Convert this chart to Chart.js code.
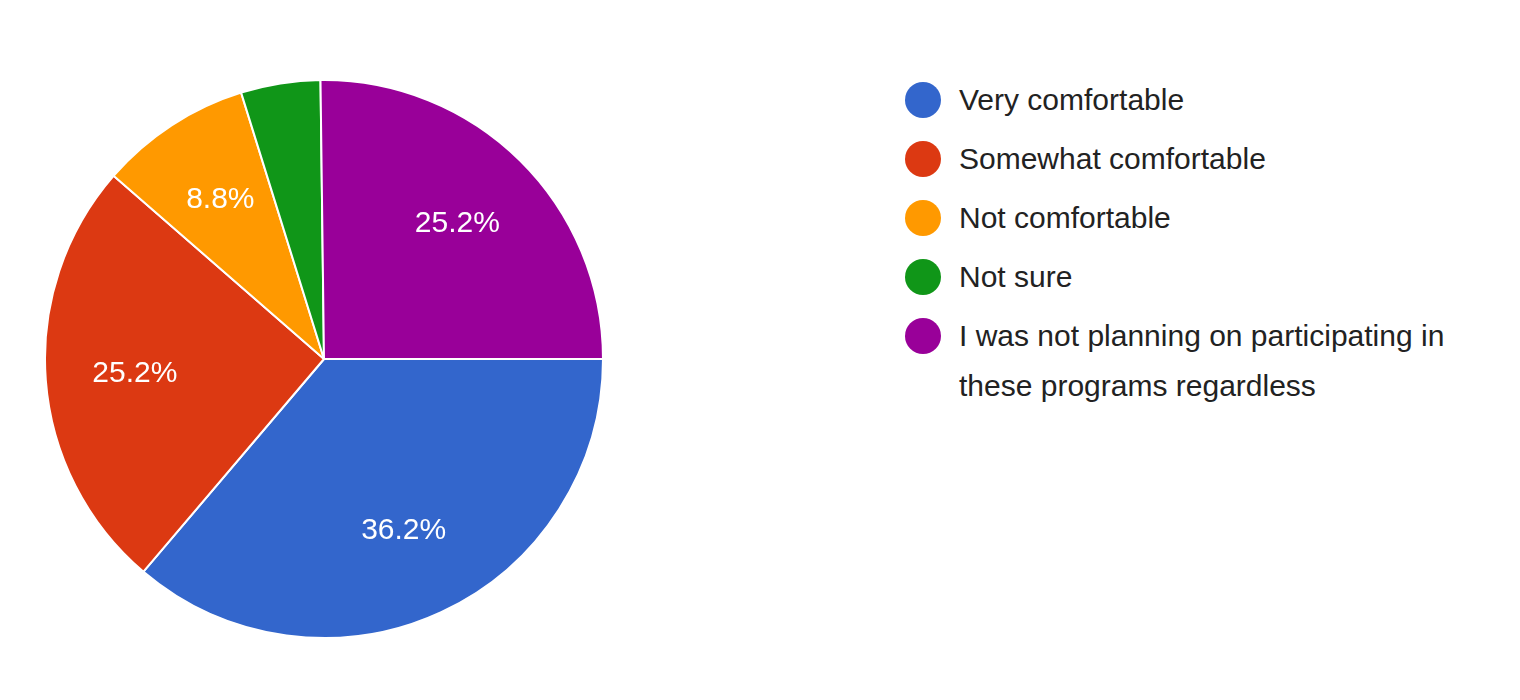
<!DOCTYPE html>
<html><head><meta charset="utf-8">
<script src="https://cdn.jsdelivr.net/npm/chart.js@4"></script>
<style>
body{margin:0;background:#fff;font-family:"Liberation Sans",Arial,sans-serif;}
#wrap{position:absolute;left:42px;top:77px;width:564px;height:564px;}
#legend{position:absolute;left:905px;top:75px;width:580px;color:#222;font-size:30px;}
.item{position:relative;padding-left:54px;line-height:50px;margin-bottom:9px;}
.dot{position:absolute;left:0;top:7px;width:36px;height:36px;border-radius:50%;}
</style></head><body>
<div id="wrap"><canvas id="c"></canvas></div>
<div id="legend"></div>
<script>
const categories=["Very comfortable","Somewhat comfortable","Not comfortable","Not sure","I was not planning on participating in these programs regardless"];
const values=[36.2,25.2,8.8,4.6,25.2];
const colors=["#3366cc","#dc3912","#ff9900","#109618","#990099"];
const lg=document.getElementById('legend');
categories.forEach((c,i)=>{const d=document.createElement('div');d.className='item';d.innerHTML='<span class="dot" style="background:'+colors[i]+'"></span>'+c;lg.appendChild(d);});
const labels={id:'lbl',afterDatasetsDraw(ch){const ctx=ch.ctx;const meta=ch.getDatasetMeta(0);ctx.save();ctx.fillStyle='#fff';ctx.font='30px "Liberation Sans", Arial';ctx.textAlign='center';ctx.textBaseline='middle';
meta.data.forEach((a,i)=>{if(values[i]<5)return;const m=(a.startAngle+a.endAngle)/2;const r=a.outerRadius*0.68;ctx.fillText(values[i].toFixed(1)+'%',a.x+Math.cos(m)*r,a.y+Math.sin(m)*r);});ctx.restore();}};
new Chart(document.getElementById('c'),{type:'pie',data:{labels:categories,datasets:[{data:values,backgroundColor:colors,borderColor:'#fff',borderWidth:2}]},
options:{responsive:true,maintainAspectRatio:false,animation:false,rotation:90,plugins:{legend:{display:false},tooltip:{enabled:false}},layout:{padding:2}},plugins:[labels]});
</script></body></html>
